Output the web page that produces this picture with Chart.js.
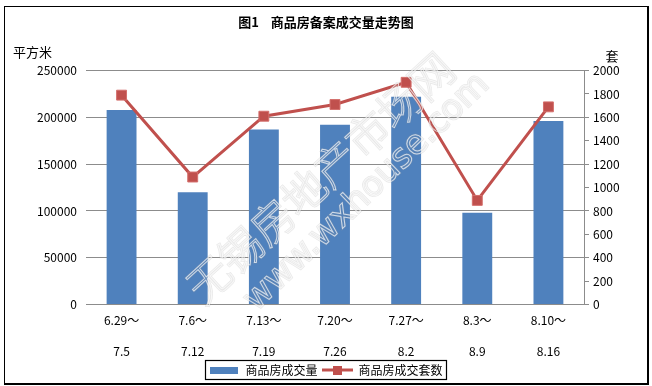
<!DOCTYPE html>
<html>
<head>
<meta charset="utf-8">
<script src="https://cdn.jsdelivr.net/npm/chart.js@4/dist/chart.umd.min.js"></script>
<style>
html,body{margin:0;padding:0;background:#fff;}
canvas{display:block;}
</style>
</head>
<body>
<canvas id="c" width="652" height="386"></canvas>
<script>
// ---- data ----
const periodStart = ['6.29～', '7.6～', '7.13～', '7.20～', '7.27～', '8.3～', '8.10～'];
const periodEnd = ['7.5', '7.12', '7.19', '7.26', '8.2', '8.9', '8.16'];
const areaValues = [208000, 120000, 187000, 192000, 222000, 98000, 196000];   // 商品房成交量 (平方米)
const unitValues = [1790, 1090, 1610, 1710, 1900, 890, 1690];                  // 商品房成交套数 (套)
const chartTitle = '图1    商品房备案成交量走势图';
const seriesNames = ['商品房成交量', '商品房成交套数'];
const leftUnit = '平方米';
const rightUnit = '套';
const watermark1 = '无锡房地产市场网';
const watermark2 = 'www.wxhouse.com';

const labels = periodStart.map((s, i) => [s, '', periodEnd[i]]);

const BLUE = '#4F81BD';
const RED = '#C0504D';
const GRID = '#8C8C8C';
const FONT = '"Noto Sans CJK SC", "Noto Sans", sans-serif';

// legend swatches
function barSwatch() {
  const c = document.createElement('canvas');
  c.width = 28; c.height = 7;
  const x = c.getContext('2d');
  x.fillStyle = BLUE; x.fillRect(0, 0, 28, 7);
  return c;
}
function lineSwatch() {
  const c = document.createElement('canvas');
  c.width = 31; c.height = 9;
  const x = c.getContext('2d');
  x.fillStyle = RED;
  x.fillRect(0, 3, 31, 3);
  x.fillRect(11, 0, 9, 9);
  return c;
}
const swatches = [barSwatch(), lineSwatch()];

function strokeWatermark(ctx, text, x, y) {
  ctx.lineWidth = 2.4;
  ctx.strokeStyle = 'rgba(150,150,150,0.22)';
  ctx.strokeText(text, x, y);
  ctx.lineWidth = 1;
  ctx.strokeStyle = 'rgba(255,255,255,0.7)';
  ctx.strokeText(text, x, y);
}

const framePlugin = {
  id: 'frame',
  beforeDraw(chart) {
    const ctx = chart.ctx;
    ctx.save();
    ctx.fillStyle = '#fff';
    ctx.fillRect(0, 0, chart.width, chart.height);
    ctx.restore();
  },
  afterDatasetsDraw(chart) {
    // faint watermark
    const ctx = chart.ctx;
    const ca = chart.chartArea;
    ctx.save();
    ctx.textBaseline = 'middle';
    ctx.textAlign = 'center';
    ctx.save();
    ctx.translate(ca.left + 234, ca.top + 107);
    ctx.rotate(-42.5 * Math.PI / 180);
    ctx.font = '300 43px ' + FONT;
    strokeWatermark(ctx, watermark1, 0, 0);
    ctx.restore();
    ctx.save();
    ctx.translate(ca.left + 281, ca.top + 122);
    ctx.rotate(-44 * Math.PI / 180);
    ctx.font = '34px "DejaVu Sans", sans-serif';
    strokeWatermark(ctx, watermark2, 0, 0);
    ctx.restore();
    ctx.restore();
  },
  afterDraw(chart) {
    const ctx = chart.ctx;
    const ca = chart.chartArea;
    ctx.save();
    // outer frame
    ctx.strokeStyle = '#000';
    ctx.lineWidth = 1;
    ctx.strokeRect(4.5, 6.5, chart.width - 9, chart.height - 9);
    ctx.lineWidth = 2;
    ctx.beginPath();
    ctx.moveTo(chart.width - 4, 6);
    ctx.lineTo(chart.width - 4, chart.height - 2);
    ctx.lineTo(4, chart.height - 2);
    ctx.stroke();
    // unit labels
    ctx.fillStyle = '#000';
    ctx.font = '13px ' + FONT;
    ctx.textBaseline = 'middle';
    ctx.textAlign = 'left';
    ctx.fillText(leftUnit, 13, ca.top - 19);
    ctx.textAlign = 'center';
    ctx.fillText(rightUnit, ca.right + 28, ca.top - 15);
    // legend border
    const lg = chart.legend;
    if (lg && lg.legendHitBoxes && lg.legendHitBoxes.length) {
      let x0 = Infinity, x1 = -Infinity, y0 = Infinity, y1 = -Infinity;
      lg.legendHitBoxes.forEach(h => {
        x0 = Math.min(x0, h.left); x1 = Math.max(x1, h.left + h.width);
        y0 = Math.min(y0, h.top); y1 = Math.max(y1, h.top + h.height);
      });
      ctx.lineWidth = 1.2;
      ctx.strokeStyle = '#000';
      ctx.strokeRect(Math.round(x0 - 4) + 0.5, Math.round(y0 - 4) + 0.5, Math.round(x1 - x0 + 8), Math.round(y1 - y0 + 7));
    }
    ctx.restore();
  }
};

const plainNumber = v => String(v);

new Chart(document.getElementById('c'), {
  data: {
    labels: labels,
    datasets: [
      {
        type: 'line',
        label: seriesNames[1],
        data: unitValues,
        yAxisID: 'y1',
        borderColor: RED,
        backgroundColor: RED,
        borderWidth: 3,
        pointStyle: 'rect',
        pointRadius: 7,
        pointBorderWidth: 1,
        pointBorderColor: '#D46F6C',
        pointBackgroundColor: RED,
        tension: 0,
        order: 0
      },
      {
        type: 'bar',
        label: seriesNames[0],
        data: areaValues,
        yAxisID: 'y',
        backgroundColor: BLUE,
        borderWidth: 0,
        barPercentage: 1,
        categoryPercentage: 0.42,
        order: 1
      }
    ]
  },
  options: {
    responsive: false,
    animation: false,
    devicePixelRatio: 1,
    layout: { padding: { left: 0, right: 0, top: 0, bottom: 0 } },
    plugins: {
      title: {
        display: true,
        text: chartTitle,
        color: '#000',
        font: { family: FONT, size: 13, weight: 'bold', lineHeight: 1.2 },
        padding: { top: 14, bottom: 41 }
      },
      legend: {
        position: 'bottom',
        labels: {
          color: '#000',
          font: { family: FONT, size: 12 },
          usePointStyle: true,
          pointStyleWidth: 30,
          padding: 5,
          generateLabels(chart) {
            return [0, 1].map(k => {
              const dsIndex = k === 0 ? 1 : 0;
              return {
                text: seriesNames[k],
                pointStyle: swatches[k],
                fillStyle: k === 0 ? BLUE : RED,
                strokeStyle: k === 0 ? BLUE : RED,
                lineWidth: 0,
                hidden: false,
                datasetIndex: dsIndex
              };
            });
          }
        }
      },
      tooltip: { enabled: false }
    },
    scales: {
      x: {
        offset: true,
        grid: { display: false, drawTicks: false },
        border: { display: false },
        ticks: {
          color: '#000',
          autoSkip: false,
          maxRotation: 0,
          padding: 8,
          font: { family: FONT, size: 12, lineHeight: '15.5px' }
        },
        afterFit(s) { s.height = 54.5; }
      },
      y: {
        position: 'left',
        min: 0, max: 250000,
        grid: { color: GRID, lineWidth: 1, drawTicks: false },
        border: { display: false },
        ticks: {
          stepSize: 50000,
          color: '#000',
          padding: 9,
          font: { family: FONT, size: 12 },
          callback: plainNumber
        },
        afterFit(s) { s.width = 86; }
      },
      y1: {
        position: 'right',
        min: 0, max: 2000,
        grid: { drawOnChartArea: false, color: GRID, tickLength: 5 },
        border: { display: true, color: GRID, width: 1 },
        ticks: {
          stepSize: 200,
          color: '#000',
          padding: 4,
          font: { family: FONT, size: 12 },
          callback: plainNumber
        },
        afterFit(s) { s.width = 68; }
      }
    }
  },
  plugins: [framePlugin]
});
</script>
</body>
</html>
